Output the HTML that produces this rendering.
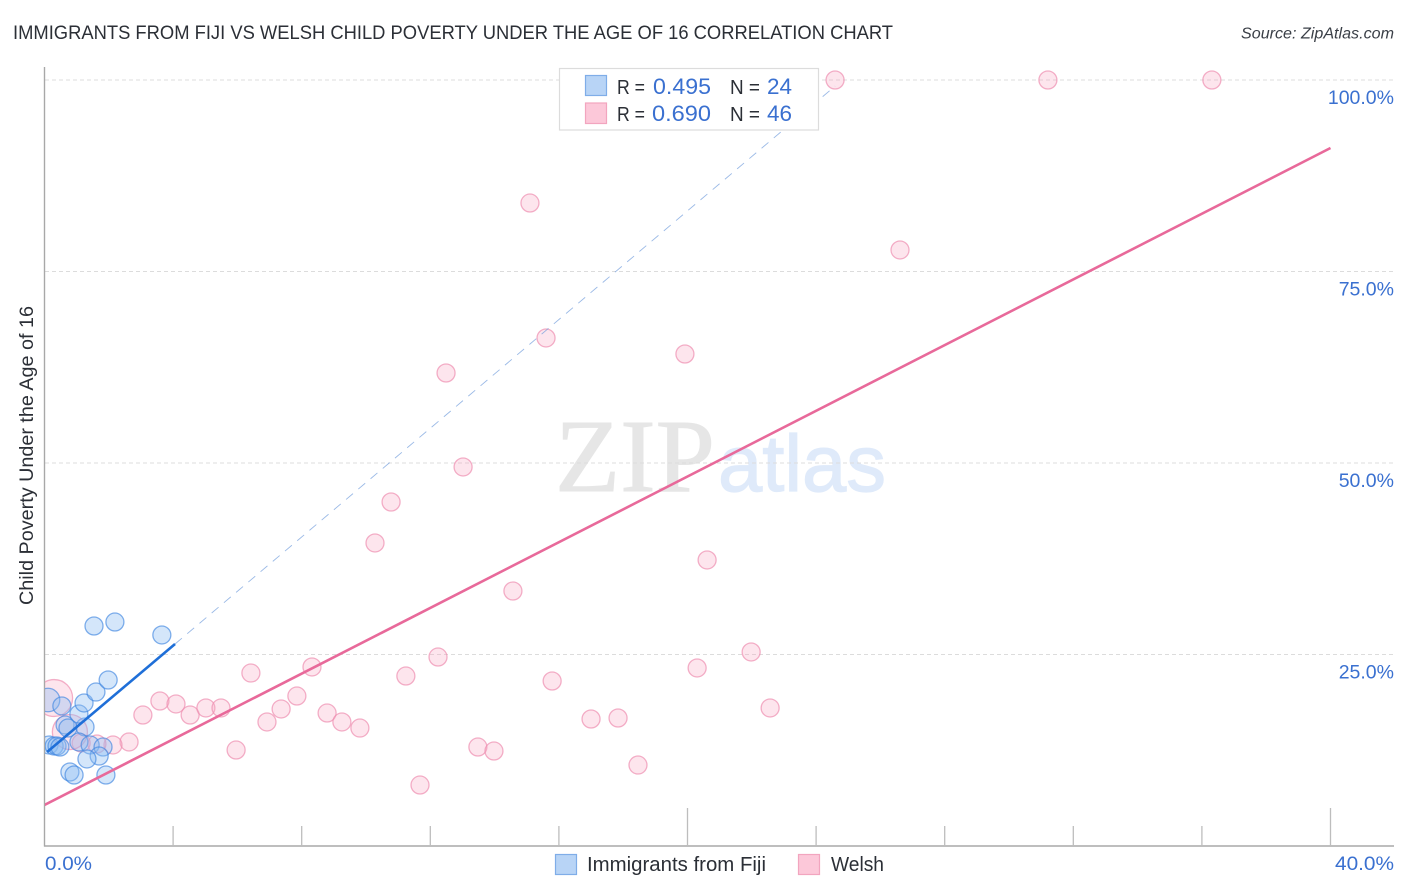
<!DOCTYPE html>
<html lang="en">
<head>
<meta charset="utf-8">
<title>Immigrants from Fiji vs Welsh Child Poverty Correlation Chart</title>
<style>
html,body{margin:0;padding:0;background:#fff;}
body{width:1406px;height:892px;overflow:hidden;}
svg{display:block;font-family:"Liberation Sans",sans-serif;}
</style>
</head>
<body>
<svg id="chart" width="1406" height="892" viewBox="0 0 1406 892" xmlns="http://www.w3.org/2000/svg">
  <defs>
    <clipPath id="plot-clip"><rect x="45" y="60" width="1349" height="786"/></clipPath>
  </defs>

  <text x="13" y="39" font-size="19.5" fill="#2b2f36" textLength="880" lengthAdjust="spacingAndGlyphs">IMMIGRANTS FROM FIJI VS WELSH CHILD POVERTY UNDER THE AGE OF 16 CORRELATION CHART</text>
  <text x="1241" y="38.5" font-size="15.5" font-style="italic" fill="#3a3f47" textLength="153" lengthAdjust="spacingAndGlyphs">Source: ZipAtlas.com</text>

  <g>
    <text x="555" y="491" font-family="'Liberation Serif',serif" font-size="104" fill="#e6e6e6" stroke="#e6e6e6" stroke-width="1" textLength="160" lengthAdjust="spacingAndGlyphs">ZIP</text>
    <text x="718" y="491" font-size="80" fill="#dfeafa" stroke="#dfeafa" stroke-width="1.2" textLength="168" lengthAdjust="spacingAndGlyphs">atlas</text>
  </g>

  <g id="grid"></g>
  <g id="axes"></g>
  <g id="marks" clip-path="url(#plot-clip)"></g>
  <g id="labels"></g>

  <text transform="translate(33,605) rotate(-90)" font-size="19" fill="#2b2f36" textLength="299" lengthAdjust="spacingAndGlyphs">Child Poverty Under the Age of 16</text>

  <g>
    <rect x="559.5" y="68.5" width="259" height="61.5" fill="#fff" stroke="#dcdcdc" stroke-width="1.2"/>
    <rect x="585.5" y="75.5" width="21" height="20" fill="#b8d4f6" stroke="#7fade8" stroke-width="1.2"/>
    <rect x="585.5" y="103" width="21" height="20.5" fill="#fcc8d9" stroke="#f2a5bf" stroke-width="1.2"/>
    <text x="617" y="94" font-size="20" fill="#2b2f36" textLength="28" lengthAdjust="spacingAndGlyphs">R =</text>
    <text x="653" y="94" font-size="22" fill="#3a70d0" textLength="58" lengthAdjust="spacingAndGlyphs">0.495</text>
    <text x="730" y="94" font-size="20" fill="#2b2f36" textLength="30" lengthAdjust="spacingAndGlyphs">N =</text>
    <text x="767" y="94" font-size="22" fill="#3a70d0" textLength="25" lengthAdjust="spacingAndGlyphs">24</text>
    <text x="617" y="121" font-size="20" fill="#2b2f36" textLength="28" lengthAdjust="spacingAndGlyphs">R =</text>
    <text x="652" y="121" font-size="22" fill="#3a70d0" textLength="59" lengthAdjust="spacingAndGlyphs">0.690</text>
    <text x="730" y="121" font-size="20" fill="#2b2f36" textLength="30" lengthAdjust="spacingAndGlyphs">N =</text>
    <text x="767" y="121" font-size="22" fill="#3a70d0" textLength="25" lengthAdjust="spacingAndGlyphs">46</text>
  </g>

  <g>
    <rect x="555.5" y="854.5" width="21" height="20" fill="#b8d4f6" stroke="#7fade8" stroke-width="1.2"/>
    <text x="587" y="871" font-size="20" fill="#2b2f36" textLength="179" lengthAdjust="spacingAndGlyphs">Immigrants from Fiji</text>
    <rect x="798.5" y="854.5" width="21" height="20" fill="#fcc8d9" stroke="#f2a5bf" stroke-width="1.2"/>
    <text x="831" y="871" font-size="20" fill="#2b2f36" textLength="53" lengthAdjust="spacingAndGlyphs">Welsh</text>
  </g>
</svg>
<script>
const xTickValues = [4, 8, 12, 16, 20, 24, 28, 32, 36, 40];
const xMajorTicks = [20, 40];
const yGridValues = [25, 50, 75, 100];
const yTickLabels = ["25.0%", "50.0%", "75.0%", "100.0%"];
const xMinLabel = "0.0%";
const xMaxLabel = "40.0%";

const fijiX = [0.11, 0.54, 0.14, 0.30, 0.39, 0.48, 0.64, 0.73, 1.26, 1.07, 1.23, 1.60, 1.98, 1.54, 2.19, 3.65, 1.07, 1.42, 1.82, 1.70, 1.32, 0.79, 0.92, 1.91];
const fijiY = [19.06, 18.28, 13.19, 13.05, 13.05, 12.92, 15.80, 15.40, 15.54, 17.23, 18.67, 20.10, 21.67, 28.72, 29.24, 27.55, 13.58, 13.19, 12.92, 11.75, 11.36, 9.66, 9.27, 9.27];
const fijiWeight = [1.7, 1, 1, 1, 1, 1, 1, 1, 1, 1, 1, 1, 1, 1, 1, 1, 1, 1, 1, 1, 1, 1, 1, 1];

const welshX = [0.30, 24.59, 31.21, 36.31, 15.10, 26.61, 15.60, 19.92, 12.49, 13.02, 10.78, 10.28, 20.61, 14.57, 21.98, 12.24, 6.42, 8.32, 20.30, 11.24, 15.79, 7.85, 3.59, 4.09, 4.53, 5.02, 5.49, 3.06, 7.36, 22.57, 8.79, 9.25, 6.92, 9.81, 17.00, 17.84, 13.48, 13.98, 5.96, 2.63, 2.13, 18.46, 11.68, 1.63, 1.14, 0.79];
const welshY = [19.32, 100, 100, 100, 83.94, 77.81, 66.32, 64.23, 61.75, 49.48, 44.91, 39.56, 37.34, 33.29, 25.33, 24.67, 22.58, 23.37, 23.24, 22.19, 21.54, 19.58, 18.93, 18.54, 17.10, 18.02, 18.02, 17.10, 17.89, 18.02, 17.36, 16.19, 16.19, 15.40, 16.58, 16.71, 12.92, 12.40, 12.53, 13.58, 13.19, 10.57, 7.96, 13.32, 13.45, 14.88];
const welshWeight = [4.2, 1, 1, 1, 1, 1, 1, 1, 1, 1, 1, 1, 1, 1, 1, 1, 1, 1, 1, 1, 1, 1, 1, 1, 1, 1, 1, 1, 1, 1, 1, 1, 1, 1, 1, 1, 1, 1, 1, 1, 1, 1, 1, 1, 1, 3.8];

const fijiTrendX = [0.08, 4.06];
const fijiTrendY = [12.27, 26.37];
const fijiTrendExtX = [4.06, 24.59];
const fijiTrendExtY = [26.37, 99.2];
const welshTrendX = [0, 40];
const welshTrendY = [5.35, 91.12];

const NS = "http://www.w3.org/2000/svg";
const xScale = v => 44.5 + v * 32.15;
const yScale = v => 846 - v * 7.66;
const rScale = w => 9 * Math.sqrt(w);

function make(tag, attrs, parent, text) {
  const el = document.createElementNS(NS, tag);
  for (const k in attrs) el.setAttribute(k, attrs[k]);
  if (text !== undefined) el.textContent = text;
  parent.appendChild(el);
  return el;
}

const grid = document.getElementById("grid");
const axes = document.getElementById("axes");
const marks = document.getElementById("marks");
const labels = document.getElementById("labels");

yGridValues.forEach(v => {
  const el = make("line", {x1: 45, x2: 1394, y1: yScale(v), y2: yScale(v), stroke: "#dcdcdc", "stroke-width": 1, "stroke-dasharray": "4 3"}, grid);
  
  
});

const yAxis = make("line", {x1: 44.5, x2: 44.5, y1: 67, y2: 846.5, stroke: "#a8a8a8", "stroke-width": 1.4}, axes);


const xAxis = make("line", {x1: 44, x2: 1394, y1: 846, y2: 846, stroke: "#a8a8a8", "stroke-width": 1.4}, axes);



xTickValues.forEach(v => {
  const top = xMajorTicks.includes(v) ? 808 : 826;
  const el = make("line", {x1: xScale(v), x2: xScale(v), y1: top, y2: 846, stroke: "#bdbdbd", "stroke-width": 1.3}, axes);
  
  
});

yGridValues.forEach((v, i) => {
  const el = make("text", {x: 1394, y: yScale(v) + 24, "text-anchor": "end", "font-size": 19.5, fill: "#3a70d0"}, labels, yTickLabels[i]);
  
  
});

const xMin = make("text", {x: 45, y: 870, "font-size": 19.5, fill: "#3a70d0", textLength: 47, lengthAdjust: "spacingAndGlyphs"}, labels, xMinLabel);


const xMax = make("text", {x: 1335, y: 870, "font-size": 19.5, fill: "#3a70d0", textLength: 59, lengthAdjust: "spacingAndGlyphs"}, labels, xMaxLabel);



welshX.forEach((v, i) => {
  const el = make("circle", {cx: xScale(v), cy: yScale(welshY[i]), r: rScale(welshWeight[i]), fill: "#f9a8c4", "fill-opacity": 0.3, stroke: "#ee8fb0", "stroke-opacity": 0.7, "stroke-width": 1.3}, marks);
  
  
});

fijiX.forEach((v, i) => {
  const el = make("circle", {cx: xScale(v), cy: yScale(fijiY[i]), r: rScale(fijiWeight[i]), fill: "#8fbcf2", "fill-opacity": 0.38, stroke: "#3f86e0", "stroke-opacity": 0.65, "stroke-width": 1.3}, marks);
  
  
});

const fijiExt = make("line", {x1: xScale(fijiTrendExtX[0]), y1: yScale(fijiTrendExtY[0]), x2: xScale(fijiTrendExtX[1]), y2: yScale(fijiTrendExtY[1]), stroke: "#6f9bdc", "stroke-width": 0.9, "stroke-dasharray": "9 7", "stroke-opacity": 0.7}, marks);



const welshTrend = make("line", {x1: xScale(welshTrendX[0]), y1: yScale(welshTrendY[0]), x2: xScale(welshTrendX[1]), y2: yScale(welshTrendY[1]), stroke: "#e8699a", "stroke-width": 2.6}, marks);



const fijiTrend = make("line", {x1: xScale(fijiTrendX[0]), y1: yScale(fijiTrendY[0]), x2: xScale(fijiTrendX[1]), y2: yScale(fijiTrendY[1]), stroke: "#1f6fd8", "stroke-width": 2.6}, marks);


</script>
</body>
</html>
